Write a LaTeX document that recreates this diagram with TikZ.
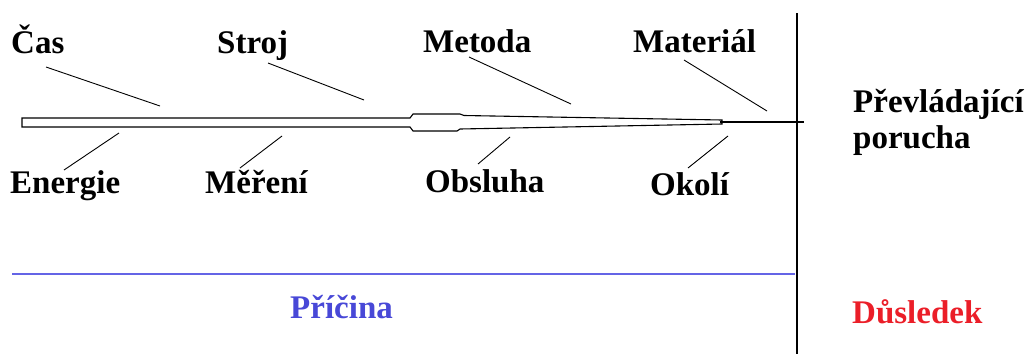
\documentclass[tikz,border=0pt]{standalone}
\usepackage{fontspec}
\setmainfont{Liberation Serif}
\usepackage{tikz}
\usepackage{xcolor}
\definecolor{pricinacolor}{RGB}{72,72,215}
\definecolor{pricinaline}{RGB}{100,100,230}
\definecolor{dusledekcolor}{RGB}{235,30,40}
\tikzstyle{faktor} = [
    font=\fontsize{33}{37}\selectfont\bfseries,
    inner sep=0pt,
    anchor=base west
    ]
\tikzstyle{kost} = [
    draw=black,
    line width=0.9pt
    ]

\begin{document}
\begin{tikzpicture}[x=1pt,y=-1pt]
\useasboundingbox (0,0) rectangle (1033,354);

% hreben ryby
\draw[line width=1.1pt, fill=white]
    (22,118) -- (410,118) -- (413,114) -- (460,114) -- (464,115.5) -- (722,120)
    -- (722,124) -- (460,129) -- (457,131) -- (413,131) -- (410,127) -- (22,127) -- cycle;
\coordinate (hlava-a) at (720,122);
\coordinate (hlava-b) at (804,122);
\draw[line width=2.6pt] (hlava-a) -- (hlava-b);

% deleni pricina / dusledek
\coordinate (svisla-a) at (797,13);
\coordinate (svisla-b) at (797,354);
\draw[line width=1.1pt] (svisla-a) -- (svisla-b);
\coordinate (modra-a) at (12,274);
\coordinate (modra-b) at (795,274);
\draw[pricinaline, line width=1.3pt] (modra-a) -- (modra-b);

% horni faktory
\node[faktor] (cas) at (11,53) {Čas};
\node[faktor] (stroj) at (217,53) {Stroj};
\node[faktor] (metoda) at (423,52) {Metoda};
\node[faktor] (material) at (633,52) {Materiál};

% dolni faktory
\node[faktor] (energie) at (10,193) {Energie};
\node[faktor] (mereni) at (205,193) {Měření};
\node[faktor] (obsluha) at (425,192) {Obsluha};
\node[faktor] (okoli) at (650,195) {Okolí};

\coordinate (cas-a) at (46,67);       \coordinate (cas-b) at (160,106);
\coordinate (stroj-a) at (268,63);    \coordinate (stroj-b) at (364,100);
\coordinate (metoda-a) at (469,57);   \coordinate (metoda-b) at (571,104);
\coordinate (material-a) at (684,60); \coordinate (material-b) at (767,111);
\coordinate (energie-a) at (119,133); \coordinate (energie-b) at (64,170);
\coordinate (mereni-a) at (282,136);  \coordinate (mereni-b) at (240,168);
\coordinate (obsluha-a) at (510,137); \coordinate (obsluha-b) at (478,164);
\coordinate (okoli-a) at (728,136);   \coordinate (okoli-b) at (688,168);

\foreach \f in {cas,stroj,metoda,material,energie,mereni,obsluha,okoli}
    \draw[kost] (\f-a) -- (\f-b);

% nasledek
\node[faktor] (prevladajici) at (853,112) {Převládající};
\node[faktor] (porucha) at (853,148) {porucha};

\node[faktor, text=pricinacolor] (pricina) at (290,318) {Příčina};
\node[faktor, text=dusledekcolor] (dusledek) at (852,323) {Důsledek};
\end{tikzpicture}
\end{document}
